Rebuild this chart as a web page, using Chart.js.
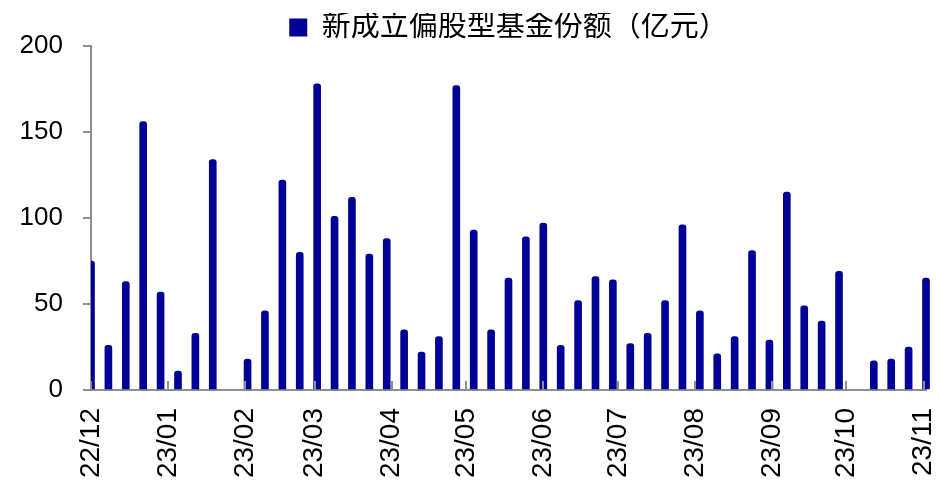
<!DOCTYPE html>
<html lang="zh-CN">
<head>
    <meta charset="UTF-8">
    <title>新成立偏股型基金份额</title>
    <script src="https://cdn.jsdelivr.net/npm/chart.js"></script>
    <style>
        html, body { margin: 0; padding: 0; background: #fff; }
        .chart-box { width: 940px; height: 484px; position: relative; }
    </style>
</head>
<body>
    <div class="chart-box">
        <canvas id="fundChart"></canvas>
    </div>

    <script>
        // weekly dates (holiday weeks have no issuance value)
        const weekDates = [
            '2022-12-01', '2022-12-08', '2022-12-15', '2022-12-22', '2022-12-29',
            '2023-01-05', '2023-01-12', '2023-01-19', '2023-01-26', '2023-02-02',
            '2023-02-09', '2023-02-16', '2023-02-23', '2023-03-02', '2023-03-09',
            '2023-03-16', '2023-03-23', '2023-03-30', '2023-04-06', '2023-04-13',
            '2023-04-20', '2023-04-27', '2023-05-04', '2023-05-11', '2023-05-18',
            '2023-05-25', '2023-06-01', '2023-06-08', '2023-06-15', '2023-06-22',
            '2023-06-29', '2023-07-06', '2023-07-13', '2023-07-20', '2023-07-27',
            '2023-08-03', '2023-08-10', '2023-08-17', '2023-08-24', '2023-08-31',
            '2023-09-07', '2023-09-14', '2023-09-21', '2023-09-28', '2023-10-05',
            '2023-10-12', '2023-10-19', '2023-10-26', '2023-11-02'
        ];
        const fundShares = [
            75, 26, 63, 156, 57,
            11, 33, 134, null, 18,
            46, 122, 80, 178, 101,
            112, 79, 88, 35, 22,
            31, 177, 93, 35, 65,
            89, 97, 26, 52, 66,
            64, 27, 33, 52, 96,
            46, 21, 31, 81, 29,
            115, 49, 40, 69, null,
            17, 18, 25, 65
        ];
        const monthStarts = [
            '2022-12-01', '2023-01-01', '2023-02-01', '2023-03-01', '2023-04-01', '2023-05-01',
            '2023-06-01', '2023-07-01', '2023-08-01', '2023-09-01', '2023-10-01', '2023-11-01'
        ];
        const monthLabels = ['22/12', '23/01', '23/02', '23/03', '23/04', '23/05',
                             '23/06', '23/07', '23/08', '23/09', '23/10', '23/11'];
        const yTicks = [0, 50, 100, 150, 200];
        const seriesName = '新成立偏股型基金份额（亿元）';

        const DAY = 24 * 3600 * 1000;
        const origin = Date.UTC(2022, 11, 1);
        function dayIndex(s) {
            const p = s.split('-');
            return Math.round((Date.UTC(+p[0], +p[1] - 1, +p[2]) - origin) / DAY);
        }
        const monthDays = monthStarts.map(dayIndex);

        const axisGray = '#8e8e8e';
        const navy = '#000096';

        // small upward tick marks on the date axis
        const upTicks = {
            id: 'upTicks',
            afterDatasetsDraw(chart) {
                const ctx = chart.ctx;
                const x = chart.scales.x;
                const bottom = chart.chartArea.bottom;
                ctx.save();
                ctx.strokeStyle = axisGray;
                ctx.lineWidth = 2;
                monthDays.forEach(function(d) {
                    const px = Math.round(x.getPixelForValue(d));
                    ctx.beginPath();
                    ctx.moveTo(px, bottom);
                    ctx.lineTo(px, bottom - 9);
                    ctx.stroke();
                });
                ctx.restore();
            }
        };

        // legend box is a bit taller than needed, trim the extra gap under it
        const tightLegend = {
            id: 'tightLegend',
            afterInit(chart) {
                const lg = chart.legend;
                if (!lg) return;
                const fit = lg.fit.bind(lg);
                lg.fit = function() {
                    fit();
                    this.height -= 6;
                };
            }
        };

        new Chart(document.getElementById('fundChart'), {
            type: 'bar',
            data: {
                datasets: [{
                    label: seriesName,
                    data: weekDates.map(function(d, i) { return { x: dayIndex(d), y: fundShares[i] }; }),
                    backgroundColor: navy,
                    borderWidth: 0,
                    barThickness: 7,
                    borderRadius: 3,
                    clip: { left: 0, top: false, right: 12, bottom: 0 }
                }]
            },
            options: {
                responsive: true,
                maintainAspectRatio: false,
                animation: false,
                layout: { padding: { left: 0, right: 14, top: 13, bottom: 0 } },
                plugins: {
                    legend: {
                        position: 'top',
                        fullSize: false,
                        labels: {
                            color: '#000',
                            boxWidth: 18,
                            boxHeight: 18,
                            padding: 0,
                            font: { size: 29, family: "'Liberation Sans', 'Noto Sans CJK SC'" }
                        }
                    },
                    tooltip: { enabled: false }
                },
                scales: {
                    x: {
                        type: 'linear',
                        min: 0,
                        max: 336,
                        offset: false,
                        afterBuildTicks: function(scale) {
                            scale.ticks = monthDays.map(function(v) { return { value: v }; });
                        },
                        afterFit: function(scale) {
                            scale.paddingLeft = 0;
                            scale.paddingRight = 0;
                            scale.height = 94;
                        },
                        border: { color: axisGray, width: 2 },
                        grid: { display: false, drawTicks: false },
                        ticks: {
                            autoSkip: false,
                            minRotation: 90,
                            maxRotation: 90,
                            padding: 18,
                            color: '#000',
                            font: { size: 28, family: "'Liberation Sans', Arial" },
                            callback: function(value, index) { return monthLabels[index]; }
                        }
                    },
                    y: {
                        min: 0,
                        max: 200,
                        afterBuildTicks: function(scale) {
                            scale.ticks = yTicks.map(function(v) { return { value: v }; });
                        },
                        afterFit: function(scale) {
                            scale.width = 91;
                        },
                        border: { color: axisGray, width: 2 },
                        grid: { drawOnChartArea: false, tickLength: 8, color: axisGray, lineWidth: 2 },
                        ticks: {
                            padding: 20,
                            color: '#000',
                            font: { size: 26, family: "'Liberation Sans', Arial" }
                        }
                    }
                }
            },
            plugins: [upTicks, tightLegend]
        });
    </script>
</body>
</html>
